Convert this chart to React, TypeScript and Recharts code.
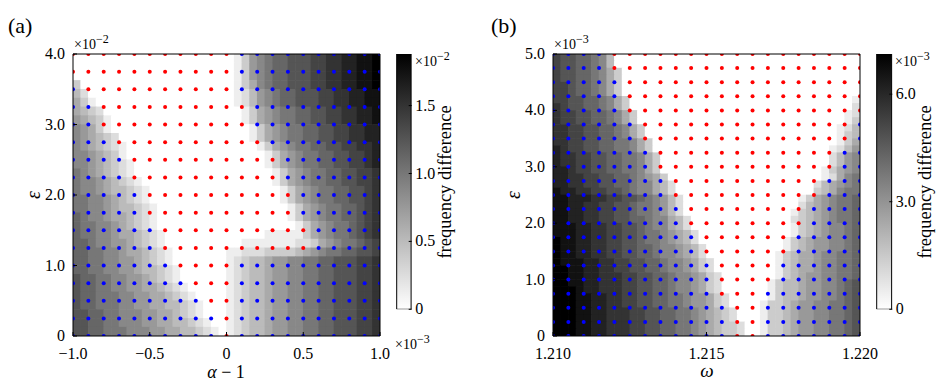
import React from 'react';
import { ScatterChart, Scatter, XAxis, YAxis, BarChart, Bar } from 'recharts';

// frequency difference maps, one hex digit per cell (level out of 15 of the colour-bar max), top row first.
// "left|right": grey cells on the left and right of the white (0) locked region.
const heatRowsA = [
  '|1367899aaabbccddeef',
  '|1367899aaabbccddeef',
  '|1367899aaabbccddeef',
  '3|1357899aaabbccddeef',
  '42|12467899aaabbccddee',
  '531|12467899aaabbccddee',
  '5432|135678899aabbccdde',
  '65431|135678899aabbccdde',
  '76531|135678899aabbccdd',
  '765432|135678899aabbccdd',
  '7654321|135678899aabbccd',
  '7765431|135678899aabbcd',
  '77654321|135678899aabbcd',
  '87654321|135678899aabbc',
  '877654321|135678899aabbc',
  '8776544321|135678899aabc',
  '8877654321|135678899aabc',
  '88776544321|135678899abc',
  '98776554321|135678899abc',
  '98877654321|13567889abc',
  '988776554321|111113567889abc',
  '998776654321|1111111223567889ab',
  '9988776554321|11222333345678899aab',
  '9988776654321|12344566778899aaabbc',
  '99887766544321|12344566778899aaabbc',
  'a9988776654321|12344566778899aaabbc',
  'a99887766554321|12344566778899aaabbc',
  'a998887766554321|12344566778899aaabbc',
  'a9988877665544321|12344566778899aaabbc',
  'aa998877766554321|12344566778899aaabbc',
  'aa9988777665544321|12344566778899aaabbc',
  'aa99888777665544321|12344566778899aaabbc',
];

const heatRowsB = [
  'baa99874|',
  'baa99874|',
  'baa998753|',
  'baa998753|',
  'bba998753|',
  'bba998753|',
  'bbaa998753|1',
  'cbaa998753|2',
  'cbbaa998753|12',
  'cbbaa998753|13',
  'ccbbaa998753|124',
  'ccbbaa998753|134',
  'ccbbaa9988753|135',
  'dcbbaa9988753|1246',
  'dccbbaa9988753|2467',
  'dccbbaa9988753|2467',
  'ddcbbaa9988753|13567',
  'ddccbbaa9987653|12578',
  'ddccbbaa99877542|245678',
  'eddccbbaa9877542|345788',
  'eedddccbbaa987642|13567889',
  'eeddccbbaa9887642|24567889',
  'eeddccbbaa9887642|134567889',
  'eeddccbbaa99877542|234567889',
  'eeeddccbbaa9877542|134567789',
  'eeeddccbbaa98876542|134567789',
  'feeddccbbaa98876542|1345667789',
  'feeddccbbaa998776542|1345667789',
  'feeddccbbaa998776542|13455677889',
  'feeeddccbbaa998776532|13455677889',
  'ffeeddccbbaa998776532|13455677889',
  'ffeeddcccbbaa998776532|13456677889',
  'ffeeddcccbbaa998776532|13445667789a',
  'fffeddcccbbaa998776532|13445667789a',
  'fffeeddccbbaa9988766532|13445667789a',
  'fffeeddccbbaa9988766532|133456677889a',
  'fffeeddcccbbaa9988765432|133456677889a',
  'fffeeddcccbbaa9988765432|133456677889a',
  'fffeeddcccbbaa99887654332|133456677889a',
  'fffeeddcccbbaa99887654332|133456677889a',
];

// locked (r) / unlocked (b) markers, top row first
const dotRowsA = [
  'rrrrrrrrrrrbbbbbbbbbb',
  'rrrrrrrrrrrbbbbbbbbbb',
  'brrrrrrrrrrbbbbbbbbbb',
  'bbrrrrrrrrrrbbbbbbbbb',
  'bbrrrrrrrrrrbbbbbbbbb',
  'bbbrrrrrrrrrrbbbbbbbb',
  'bbbbrrrrrrrrrrbbbbbbb',
  'bbbbrrrrrrrrrrbbbbbbb',
  'bbbbbrrrrrrrrrrbbbbbb',
  'bbbbbrrrrrrrrrrbbbbbb',
  'bbbbbbrrrrrrrrrrbbbbb',
  'bbbbbbrrrrrrrrrrbbbbb',
  'bbbbbbbrrrrbbbbbbbbbb',
  'bbbbbbbbrrrbbbbbbbbbb',
  'bbbbbbbbbrrbbbbbbbbbb',
  'bbbbbbbbbbrbbbbbbbbbb',
  'bbbbbbbbbbrbbbbbbbbbb',
];

const dotRowsB = [
  'bbbbrrrrrrrrrrrrrrrrr',
  'bbbbrrrrrrrrrrrrrrrrr',
  'bbbbbrrrrrrrrrrrrrrrr',
  'bbbbbrrrrrrrrrrrrrrrr',
  'bbbbbrrrrrrrrrrrrrrrr',
  'bbbbbbrrrrrrrrrrrrrrb',
  'bbbbbbrrrrrrrrrrrrrrb',
  'bbbbbbbrrrrrrrrrrrrbb',
  'bbbbbbbrrrrrrrrrrrrbb',
  'bbbbbbbbrrrrrrrrrrbbb',
  'bbbbbbbbrrrrrrrrrrbbb',
  'bbbbbbbbbrrrrrrrrbbbb',
  'bbbbbbbbbrrrrrrrrbbbb',
  'bbbbbbbbbbrrrrrrbbbbb',
  'bbbbbbbbbbrrrrrrbbbbb',
  'bbbbbbbbbbbrrrrbbbbbb',
  'bbbbbbbbbbbrrrrbbbbbb',
  'bbbbbbbbbbbrrrbbbbbbb',
  'bbbbbbbbbbbbrrbbbbbbb',
  'bbbbbbbbbbbbrrbbbbbbb',
  'bbbbbbbbbbbbrrbbbbbbb',
];

const xTicksA = [-1, -0.5, 0, 0.5, 1];
const yTicksA = [0, 1, 2, 3, 4];
const xTicksB = [1.21, 1.215, 1.22];
const yTicksB = [0, 1, 2, 3, 4, 5];
const cbTicksA = [0, 0.5, 1, 1.5];
const cbTicksB = [0, 3, 6];
const cbMaxA = 1.88;
const cbMaxB = 7.12;

const FONT = 'Liberation Serif';
const PLOT_W = 307;
const PLOT_H = 282;
const COLS = 40;

function buildCells(rows: string[], xd: number[], yd: number[], vmax: number) {
  const dx = (xd[1] - xd[0]) / COLS;
  const dy = (yd[1] - yd[0]) / rows.length;
  const out: { x: number; y: number; v: number }[] = [];
  rows.forEach((s, r) => {
    const [l, rt] = s.split('|');
    const full = l + '0'.repeat(COLS - l.length - rt.length) + rt;
    for (let c = 0; c < COLS; c++) {
      out.push({ x: xd[0] + dx * (c + 0.5), y: yd[1] - dy * (r + 0.5), v: (parseInt(full[c], 16) / 15) * vmax });
    }
  });
  return out;
}

function buildDots(rows: string[], xd: number[], yd: number[], kind: string) {
  const n = rows[0].length - 1;
  const m = rows.length - 1;
  const out: { x: number; y: number }[] = [];
  rows.forEach((s, j) => {
    s.split('').forEach((ch, i) => {
      if (ch === kind) out.push({ x: xd[0] + ((xd[1] - xd[0]) * i) / n, y: yd[1] - ((yd[1] - yd[0]) * j) / m });
    });
  });
  return out;
}

const grey = (f: number) => {
  const g = Math.round(255 * (1 - Math.min(1, Math.max(0, f))));
  return `rgb(${g},${g},${g})`;
};

const fmt1 = (v: number) => (v === 0 ? '0' : (v < 0 ? '\u2212' : '') + Math.abs(v).toFixed(1));
const fmt3 = (v: number) => v.toFixed(3);

function Panel({ heatRows, dotRows, xd, yd, xTicks, yTicks, xFmt, vmax, width, right }: any) {
  const cells = buildCells(heatRows, xd, yd, vmax);
  const red = buildDots(dotRows, xd, yd, 'r');
  const blue = buildDots(dotRows, xd, yd, 'b');
  const cw = PLOT_W / COLS;
  const ch = PLOT_H / heatRows.length;
  const cellShape = (p: any) => (
    <rect x={p.cx - cw / 2 - 0.3} y={p.cy - ch / 2 - 0.3} width={cw + 0.6} height={ch + 0.6} fill={grey(p.payload.v / vmax)} />
  );
  const dot = (c: string) => (p: any) => <circle cx={p.cx} cy={p.cy} r={2} fill={c} />;
  const xTick = (p: any) => (
    <g>
      <line x1={p.x} y1={p.y} x2={p.x} y2={p.y - 4} stroke="#000" />
      <text x={p.x} y={p.y + 22.5} textAnchor="middle" style={{ fontFamily: FONT }} fontSize={16} fill="#000">{xFmt(p.payload.value)}</text>
    </g>
  );
  const yTick = (p: any) => (
    <g>
      <line x1={p.x} y1={p.y} x2={p.x + 4} y2={p.y} stroke="#000" />
      <text x={p.x - 8} y={p.y + 5} textAnchor="end" style={{ fontFamily: FONT }} fontSize={16} fill="#000">{fmt1(p.payload.value)}</text>
    </g>
  );
  return (
    <ScatterChart width={width} height={392} margin={{ top: 53, left: 33, right, bottom: 26 }}>
      <Scatter data={cells} shape={cellShape} isAnimationActive={false} />
      <Scatter data={red} shape={dot('#ff0000')} isAnimationActive={false} />
      <Scatter data={blue} shape={dot('#0000ff')} isAnimationActive={false} />
      <XAxis type="number" dataKey="x" domain={xd} ticks={xTicks} interval={0} allowDataOverflow height={30}
        tick={xTick} tickLine={false} tickSize={0} tickMargin={0} axisLine={{ stroke: '#000' }} zIndex={700} />
      <YAxis type="number" dataKey="y" domain={yd} ticks={yTicks} interval={0} allowDataOverflow width={40}
        tick={yTick} tickLine={false} tickSize={0} tickMargin={0} axisLine={{ stroke: '#000' }} zIndex={700} />
      <XAxis xAxisId="top" orientation="top" type="number" domain={xd} height={1} tick={false} tickLine={false}
        axisLine={{ stroke: '#000' }} zIndex={700} />
      <YAxis yAxisId="right" orientation="right" type="number" domain={yd} width={1} tick={false} tickLine={false}
        axisLine={{ stroke: '#000' }} zIndex={700} />
    </ScatterChart>
  );
}

function ColorBar({ id, vmax, ticks, width, barW, right }: any) {
  const cbTick = (p: any) => (
    <g>
      <line x1={p.x} y1={p.y} x2={p.x - 3} y2={p.y} stroke="#000" />
      <text x={p.x + 3.5} y={p.y + 5} textAnchor="start" style={{ fontFamily: FONT }} fontSize={16} fill="#000">{fmt1(p.payload.value)}</text>
    </g>
  );
  return (
    <BarChart width={width} height={392} data={[{ k: 'cb', v: vmax }]} barCategoryGap={0}
      margin={{ top: 54, left: 15.7, right, bottom: 82.7 }}>
      <defs>
        <linearGradient id={id} x1="0" y1="0" x2="0" y2="1">
          <stop offset="0" stopColor="#000" />
          <stop offset="1" stopColor="#fff" />
        </linearGradient>
      </defs>
      <XAxis dataKey="k" hide />
      <YAxis orientation="right" type="number" domain={[0, vmax]} ticks={ticks} interval={0} allowDataOverflow width={30}
        tick={cbTick} tickLine={false} tickSize={0} tickMargin={0} axisLine={false} zIndex={700} />
      <Bar dataKey="v" fill={`url(#${id})`} stroke="#000" strokeWidth={1} isAnimationActive={false} barSize={barW} />
    </BarChart>
  );
}

function Sci({ x, y, exp }: any) {
  return (
    <text x={x} y={y} style={{ fontFamily: FONT }} fontSize={14} fill="#000">
      ×10<tspan dy={-6} fontSize={12}>{'\u2212' + exp}</tspan>
    </text>
  );
}

export default function App() {
  const t = { fontFamily: FONT };
  return (
    <div style={{ position: 'absolute', left: 0, top: 0, width: 947, height: 392, background: '#fff' }}>
      <div style={{ position: 'absolute', left: 0, top: 0 }}>
        <Panel heatRows={heatRowsA} dotRows={dotRowsA} xd={[-1, 1]} yd={[0, 4]} xTicks={xTicksA} yTicks={yTicksA}
          xFmt={fmt1} vmax={cbMaxA} width={480} right={99} />
      </div>
      <div style={{ position: 'absolute', left: 380, top: 0 }}>
        <ColorBar id="cbA" vmax={cbMaxA} ticks={cbTicksA} width={100} barW={16} right={38.3} />
      </div>
      <div style={{ position: 'absolute', left: 480, top: 0 }}>
        <Panel heatRows={heatRowsB} dotRows={dotRowsB} xd={[1.21, 1.22]} yd={[0, 5]} xTicks={xTicksB} yTicks={yTicksB}
          xFmt={fmt3} vmax={cbMaxB} width={467} right={86} />
      </div>
      <div style={{ position: 'absolute', left: 860, top: 0 }}>
        <ColorBar id="cbB" vmax={cbMaxB} ticks={cbTicksB} width={87} barW={16.6} right={24.7} />
      </div>
      <svg width={947} height={392} style={{ position: 'absolute', left: 0, top: 0, pointerEvents: 'none' }}>
        <text x={8} y={33} style={t} fontSize={22} fill="#000">(a)</text>
        <text x={491} y={33} style={t} fontSize={22} fill="#000">(b)</text>
        <Sci x={74} y={49} exp="2" />
        <Sci x={395} y={349} exp="3" />
        <Sci x={415} y={66} exp="2" />
        <Sci x={554} y={49} exp="3" />
        <Sci x={895} y={66} exp="3" />
        <text x={226} y={378} textAnchor="middle" style={t} fontSize={18} fill="#000">
          <tspan fontStyle="italic">α</tspan> − 1
        </text>
        <text x={707} y={377} textAnchor="middle" style={t} fontSize={19} fontStyle="italic" fill="#000">ω</text>
        <text x={33} y={195} textAnchor="middle" dominantBaseline="central" style={t} fontSize={20}
          fontStyle="italic" fill="#000" transform="rotate(-90 33 195)">ε</text>
        <text x={513} y={195} textAnchor="middle" dominantBaseline="central" style={t} fontSize={20}
          fontStyle="italic" fill="#000" transform="rotate(-90 513 195)">ε</text>
        <text x={445} y={182} textAnchor="middle" dominantBaseline="central" style={t} fontSize={18.5}
          fill="#000" transform="rotate(-90 445 182)">frequency difference</text>
        <text x={925} y={182} textAnchor="middle" dominantBaseline="central" style={t} fontSize={18.5}
          fill="#000" transform="rotate(-90 925 182)">frequency difference</text>
      </svg>
    </div>
  );
}
